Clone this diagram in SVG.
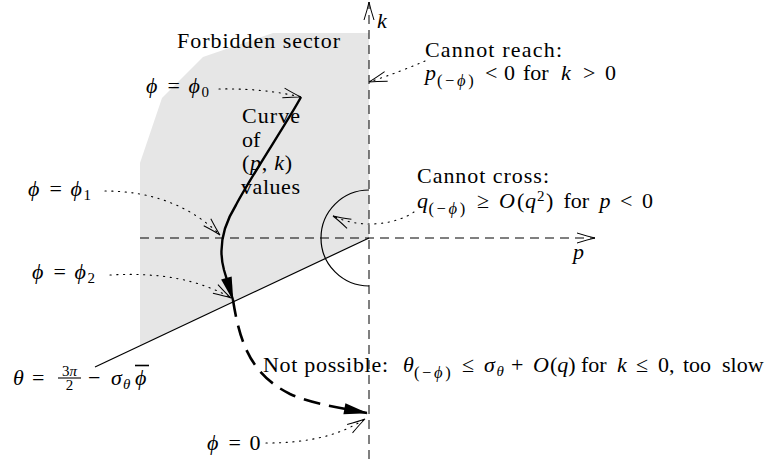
<svg xmlns="http://www.w3.org/2000/svg" width="774" height="459" viewBox="0 0 774 459" font-family="'Liberation Serif', 'DejaVu Serif', serif">
<defs>
<style>
text { font-family: 'Liberation Serif', 'DejaVu Serif', serif; font-size: 22px; fill: #000; }
.i { font-style: italic; }
.s { font-size: 15px; }
.sub { font-size: 16.5px; letter-spacing: 2.6px; }
.axis { fill: none; stroke: #000; stroke-width: 1; stroke-dasharray: 9 6; }
.dot { fill: none; stroke: #000; stroke-width: 1.1; stroke-dasharray: 1.2 5.5; stroke-linecap: round; }
.thick { fill: none; stroke: #000; stroke-width: 2.4; }
.dash { fill: none; stroke: #000; stroke-width: 2.6; stroke-dasharray: 17 9; }
.thin { fill: none; stroke: #000; stroke-width: 1.2; }
</style>
<marker id="open" markerUnits="userSpaceOnUse" viewBox="-20 -8 22 16" refX="0" refY="0" markerWidth="22" markerHeight="16" orient="auto">
<path d="M-18,-5 Q-7,-1.5 0,0 Q-7,1.5 -18,5" fill="none" stroke="#000" stroke-width="1"/>
</marker>
<marker id="solid" markerUnits="userSpaceOnUse" viewBox="-26 -8 28 16" refX="0" refY="0" markerWidth="28" markerHeight="16" orient="auto">
<path d="M1,0 L-23,-5.5 L-23,5.5 Z" fill="#000"/>
</marker>
</defs>

<polygon id="forbidden-sector" points="369,33 273,33 203,57 162,98 140,163 140,346 369,238" fill="#e6e6e6"/>

<g id="connectors">
<path id="k-axis" class="axis" d="M369,459 L369,2" marker-end="url(#open)"/>
<path id="p-axis" class="axis" d="M140,238 L595,238" marker-end="url(#open)"/>
<path id="theta-line" class="thin" d="M95,367 L369,238"/>
<path id="arc" class="thin" d="M369,190 A48,48 0 0 0 369,286"/>
<path id="curve" class="thick" d="M301,97 C290,118 250,178 236,205 C223,226 218,248 224,270 L233,300" marker-end="url(#solid)"/>
<path id="impossible-curve" class="dash" d="M233,300 C240,345 252,375 290,394 C310,403 335,407 367,413" marker-end="url(#solid)"/>
<path id="d-phi0" class="dot" d="M219,89 Q262,88 301,97" marker-end="url(#open)"/>
<path id="d-reach" class="dot" d="M425,61 Q400,72 369,82" marker-end="url(#open)"/>
<path id="d-phi1" class="dot" d="M105,191 C150,191 190,205 220,235" marker-end="url(#open)"/>
<path id="d-phi2" class="dot" d="M110,275 C160,272 200,280 231,298" marker-end="url(#open)"/>
<path id="d-cross" class="dot" d="M414,212 C395,225 360,229 333,216" marker-end="url(#open)"/>
<path id="d-phi00" class="dot" d="M266,443 C310,443 340,435 365,419" marker-end="url(#open)"/>
</g>

<g id="label-forbidden"><text x="177" y="48" textLength="163" lengthAdjust="spacing">Forbidden sector</text></g>
<g id="label-k"><text class="i" x="377" y="28">k</text></g>
<g id="label-p"><text class="i" x="573" y="259">p</text></g>

<g id="note-reach">
<text x="425" y="57" textLength="137" lengthAdjust="spacing">Cannot reach:</text>
<text y="80"><tspan class="i" x="425">p</tspan><tspan class="sub" x="437" y="86">(−<tspan class="i">ϕ</tspan>)</tspan><tspan x="485" y="80">&lt;</tspan><tspan x="504">0</tspan><tspan x="523">for</tspan><tspan class="i" x="561">k</tspan><tspan x="583">&gt;</tspan><tspan x="605">0</tspan></text>
</g>

<g id="note-cross">
<text x="417" y="183" textLength="132" lengthAdjust="spacing">Cannot cross:</text>
<text y="208"><tspan class="i" x="417">q</tspan><tspan class="sub" x="428.5" y="214">(−<tspan class="i">ϕ</tspan>)</tspan><tspan x="477" y="208">≥</tspan><tspan class="i" x="499">O</tspan><tspan x="517">(</tspan><tspan class="i" x="525">q</tspan><tspan class="s" x="537" y="201">2</tspan><tspan x="546" y="208">)</tspan><tspan x="563.5">for</tspan><tspan class="i" x="599.5">p</tspan><tspan x="620">&lt;</tspan><tspan x="642">0</tspan></text>
</g>

<g id="label-curve">
<text x="242" y="123" textLength="58" lengthAdjust="spacing">Curve</text>
<text x="242" y="147">of</text>
<text x="242" y="170" textLength="50" lengthAdjust="spacing">(<tspan class="i">p</tspan>, <tspan class="i">k</tspan>)</text>
<text x="241" y="194" textLength="59" lengthAdjust="spacing">values</text>
</g>

<g id="label-phi0"><text y="93"><tspan class="i" x="146">ϕ</tspan><tspan x="167.5">=</tspan><tspan class="i" x="188.5">ϕ</tspan><tspan class="s" x="201.5" y="97">0</tspan></text></g>
<g id="label-phi1"><text y="196"><tspan class="i" x="28">ϕ</tspan><tspan x="49.5">=</tspan><tspan class="i" x="70.5">ϕ</tspan><tspan class="s" x="83.5" y="200">1</tspan></text></g>
<g id="label-phi2"><text y="279"><tspan class="i" x="32">ϕ</tspan><tspan x="53.5">=</tspan><tspan class="i" x="74.5">ϕ</tspan><tspan class="s" x="87.5" y="283">2</tspan></text></g>
<g id="label-phi-zero"><text y="450"><tspan class="i" x="207">ϕ</tspan><tspan x="228.5">=</tspan><tspan x="249.5">0</tspan></text></g>

<g id="label-theta">
<text class="i" x="13" y="385">θ</text>
<text x="32" y="385">=</text>
<text class="s" x="69.5" y="376" text-anchor="middle">3<tspan class="i">π</tspan></text>
<line x1="58" y1="378" x2="81" y2="378" stroke="#000" stroke-width="1.1"/>
<text class="s" x="69.5" y="390" text-anchor="middle">2</text>
<text x="88" y="385">−</text>
<text class="i" x="111" y="385">σ</text>
<text class="i s" x="123" y="389">θ</text>
<text class="i" x="135" y="385">ϕ</text>
<line x1="135" y1="365.5" x2="149" y2="365.5" stroke="#000" stroke-width="1.6"/>
</g>

<g id="note-impossible">
<text x="263" y="372" textLength="125" lengthAdjust="spacing">Not possible:</text>
<text y="372"><tspan class="i" x="403">θ</tspan><tspan class="sub" x="414" y="378">(−<tspan class="i">ϕ</tspan>)</tspan><tspan x="462" y="372">≤</tspan><tspan class="i" x="484">σ</tspan><tspan class="s i" x="496.5" y="376">θ</tspan><tspan x="511" y="372">+</tspan><tspan class="i" x="533">O</tspan><tspan x="550">(</tspan><tspan class="i">q</tspan><tspan>)</tspan><tspan x="581">for</tspan><tspan class="i" x="617">k</tspan><tspan x="636">≤</tspan><tspan x="658">0,</tspan><tspan x="683">too</tspan><tspan x="722">slow</tspan></text>
</g>
</svg>
